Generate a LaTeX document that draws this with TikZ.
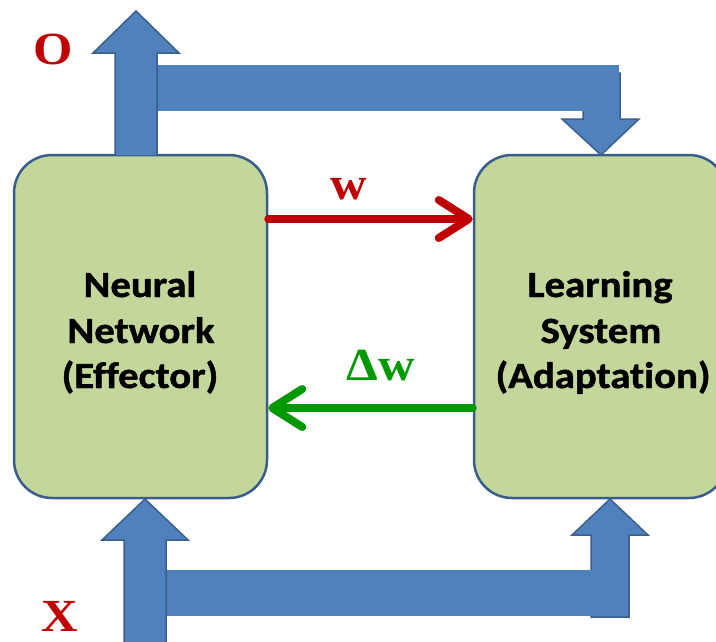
\documentclass[tikz,border=0pt]{standalone}
\usepackage{fontspec}
\newfontfamily\boxfont[Ligatures=NoCommon, BoldFeatures={FakeBold=1.2}]{Carlito}
\newfontfamily\serfont{Liberation Serif}
\usetikzlibrary{arrows.meta}
\definecolor{boxfill}{HTML}{C3D69B}
\definecolor{boxline}{HTML}{385D8A}
\definecolor{bluefill}{HTML}{4F81BD}
\definecolor{blueline}{HTML}{3A5F8B}
\definecolor{myred}{HTML}{C00000}
\definecolor{mygreen}{HTML}{009A00}
\newcommand{\hstr}[1]{\scalebox{1.1}[1]{#1}}
\begin{document}
\begin{tikzpicture}[x=1pt,y=-1pt,
  box/.style={draw=boxline, line width=2.5pt, fill=boxfill, rounded corners=38pt,
    minimum width=253pt, minimum height=343pt, inner sep=0pt},
  boxtext/.style={font=\boxfont\bfseries\fontsize{37}{40}\selectfont, anchor=base, inner sep=0pt},
  lbl/.style={font=\serfont\bfseries\fontsize{46}{50}\selectfont, anchor=base, inner sep=0pt, text=myred},
  blockarrow/.style={fill=bluefill, draw=blueline, line width=1.5pt, line join=miter},
  blockbar/.style={fill=bluefill, draw=none},
  flow/.style={line width=8pt, line cap=round}
]
\useasboundingbox (0,0) rectangle (716,641);

% boxes
\node[box] (NN) at (140.5,326.5) {};
\node[box] (LS) at (600.5,326.5) {};

% top feedback: down arrow, bar, up arrow
\draw[blockarrow] (583,73) -- (620,73) -- (620,119) -- (639,119) -- (601,155) -- (562,119) -- (583,119) -- cycle;
\fill[blockbar] (157,65) rectangle (619,111);
\draw[blockarrow] (115,155) -- (115,53) -- (93,53) -- (136,11) -- (179,53) -- (157,53) -- (157,155);

% bottom input: right up arrow, bar, left up arrow
\draw[blockarrow] (591,617) -- (591,535) -- (572,535) -- (610,499) -- (648,535) -- (629,535) -- (629,617) -- cycle;
\fill[blockbar] (166,570) rectangle (592,616);
\draw[blockarrow] (124,645) -- (124,540) -- (102,540) -- (145,499) -- (188,540) -- (166,540) -- (166,645);

% box texts
\node[boxtext] (nn1) at (140,297) {\hstr{Neural}};
\node[boxtext] (nn2) at (141,343) {\hstr{Network}};
\node[boxtext] (nn3) at (140,388) {\hstr{(Effector)}};
\node[boxtext] (ls1) at (600,297) {\hstr{Learning}};
\node[boxtext] (ls2) at (601,343) {\hstr{System}};
\node[boxtext] (ls3) at (603,388) {\hstr{(Adaptation)}};

% w and delta w connectors
\coordinate (wy) at (0,219);
\coordinate (dy) at (0,408);
\draw[flow, myred, -{Straight Barb[length=30pt,width=38pt,round]}] (NN.east |- wy) -- (LS.west |- wy);
\draw[flow, mygreen, -{Straight Barb[length=30pt,width=38pt,round]}] (LS.west |- dy) -- (NN.east |- dy);

% labels
\node[lbl] (O) at (53,64) {\hstr{O}};
\node[lbl] (X) at (60,631) {\hstr{X}};
\node[lbl] (w) at (349,199) {\hstr{w}};
\node[lbl, text=mygreen] (dw) at (381,380) {\hstr{Δw}};
\end{tikzpicture}
\end{document}
